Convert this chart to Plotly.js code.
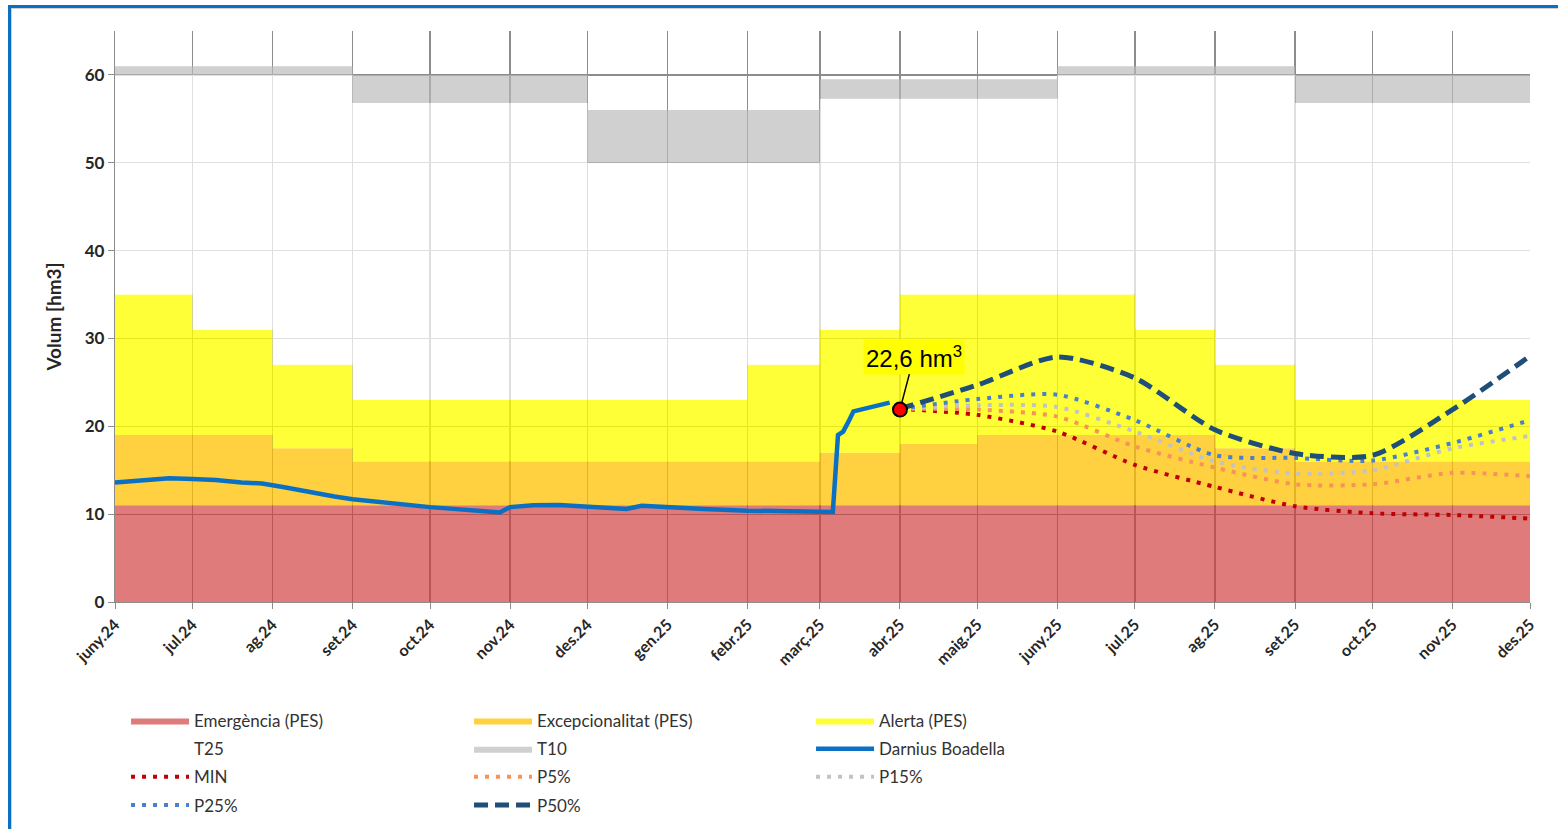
<!DOCTYPE html>
<html><head><meta charset="utf-8">
<script src="https://cdn.plot.ly/plotly-3.0.1.min.js"></script>
<style>
html,body{margin:0;padding:0;background:#fff;overflow:hidden;}
#chart{width:1558px;height:829px;}
#frame{position:absolute;left:8px;top:5px;width:1560px;height:830px;border-left:3px solid #0b6fc2;border-top:3px solid #0b6fc2;pointer-events:none;}
#frame2{position:absolute;left:11px;top:8px;width:1560px;height:830px;border-left:1px solid #d0d0d0;border-top:1px solid #d0d0d0;pointer-events:none;}
</style></head><body>
<div id="chart"></div><div id="frame"></div><div id="frame2"></div>
<script>
// Month starts (axis ticks) and their labels
const months = ['2024-06-01','2024-07-01','2024-08-01','2024-09-01','2024-10-01','2024-11-01','2024-12-01',
  '2025-01-01','2025-02-01','2025-03-01','2025-04-01','2025-05-01','2025-06-01','2025-07-01','2025-08-01',
  '2025-09-01','2025-10-01','2025-11-01','2025-12-01'];
const monthLabels = ['juny.24','jul.24','ag.24','set.24','oct.24','nov.24','des.24','gen.25','febr.25','març.25',
  'abr.25','maig.25','juny.25','jul.25','ag.25','set.25','oct.25','nov.25','des.25'];

// Monthly threshold levels (hm3), one per month juny.24 .. nov.25
const emergencia      = [11,11,11,11,11,11,11,11,11,11,11,11,11,11,11,11,11,11];
const excepcionalitat = [19,19,17.5,16,16,16,16,16,16,17,18,19,19,19,17.5,16,16,16];
const alerta          = [35,31,27,23,23,23,23,23,27,31,35,35,35,31,27,23,23,23];
const t25             = [60,60,60,56.8,56.8,56.8,50,50,50,57.3,57.3,57.3,60,60,60,56.8,56.8,56.8];
const t10             = [61,61,61,60,60,60,56,56,56,59.5,59.5,59.5,61,61,61,60,60,60];

// Observed volume Darnius Boadella
const obsDates = ['2024-06-01','2024-06-10','2024-06-22','2024-07-01','2024-07-10','2024-07-20','2024-07-28',
  '2024-08-05','2024-08-15','2024-08-25','2024-09-01','2024-09-10','2024-09-20','2024-10-01','2024-10-10',
  '2024-10-20','2024-10-28','2024-11-01','2024-11-10','2024-11-20','2024-12-01','2024-12-10','2024-12-16',
  '2024-12-22','2025-01-01','2025-01-15','2025-02-01','2025-02-15','2025-03-01','2025-03-06','2025-03-08',
  '2025-03-10','2025-03-12','2025-03-14','2025-03-28'];
const obsValues = [13.6,13.8,14.1,14.0,13.9,13.6,13.5,13.1,12.5,12.0,11.7,11.4,11.1,10.8,10.6,10.4,10.2,10.8,
  11.0,11.05,10.9,10.8,10.6,10.95,10.85,10.6,10.4,10.3,10.25,10.25,19.0,19.4,20.5,21.7,22.7];

// Current point
const nowDate = ['2025-04-01'];
const nowValue = [21.9];

// Projections abr.25 .. des.25
const projDates = months.slice(10);
const pMin = [22.0,21.3,19.4,15.6,13.1,10.9,10.1,9.9,9.5];
const p5   = [22.0,21.9,21.1,17.7,15.3,13.4,13.4,14.7,14.3];
const p15  = [22.0,22.4,22.2,19.4,16.0,14.6,15.0,17.5,18.9];
const p25  = [22.0,23.1,23.6,20.7,16.7,16.4,16.1,18.1,20.7];
const p50  = [22.0,24.7,27.9,25.5,19.6,16.9,16.7,21.9,28.0];

const ext = a => a.concat([a[a.length-1]]);

function area(name, vals, color, legend, first){
  return {x: months, y: ext(vals), name: name, type:'scatter', mode:'lines',
    line:{shape:'hv', width:0, color:color}, fill: first?'tozeroy':'tonexty', fillcolor: color,
    legend: legend, legendgroup: name, hoverinfo:'skip'};
}
function proj(name, vals, color, dash, width, legend){
  return {x: projDates, y: vals, name: name, type:'scatter', mode:'lines',
    line:{shape:'spline', smoothing:0.7, color:color, dash:dash, width:width},
    legend: legend, legendgroup: name};
}

const traces = [
  area('Emergència (PES)', emergencia, 'rgba(210,60,60,0.68)', 'legend', true),
  area('Excepcionalitat (PES)', excepcionalitat, 'rgba(255,192,0,0.75)', 'legend2', false),
  area('Alerta (PES)', alerta, 'rgba(255,255,0,0.78)', 'legend3', false),
  area('T25', t25, 'rgba(255,255,255,0.72)', 'legend', false),
  area('T10', t10, 'rgba(185,185,185,0.68)', 'legend2', false),
  {x: obsDates, y: obsValues, name:'Darnius Boadella', type:'scatter', mode:'lines',
    line:{color:'#0a70c4', width:4.5}, legend:'legend3', legendgroup:'Darnius Boadella'},
  proj('MIN', pMin, '#c00000', '4px,7px', 4, 'legend'),
  proj('P5%', p5, '#f7925a', '4px,7px', 4, 'legend2'),
  proj('P15%', p15, '#c3c3c3', '4px,7px', 4, 'legend3'),
  proj('P25%', p25, '#4a7fd0', '4px,7px', 4, 'legend'),
  proj('P50%', p50, '#1f4e79', '14px,7px', 5, 'legend2'),
  {x: nowDate, y: nowValue, type:'scatter', mode:'markers', showlegend:false,
    marker:{size:14, color:'#ff0000', line:{color:'#000', width:2}}}
];

const legFont = {family:'Lato, sans-serif', size:17, color:'#333'};
function leg(x){
  return {xref:'paper', yref:'paper', x:x, y:-0.177, xanchor:'left', yanchor:'top',
    orientation:'v', font:legFont, itemwidth:58, bgcolor:'rgba(0,0,0,0)',
    traceorder:'grouped', tracegroupgap:3, itemclick:false, itemdoubleclick:false};
}

const gridC = '#8c8c8c';
const layout = {
  width:1558, height:829,
  margin:{l:115, r:28, t:31, b:227, autoexpand:false},
  paper_bgcolor:'#fff', plot_bgcolor:'#fff',
  showlegend:true,
  xaxis:{type:'date', range:[months[0], months[months.length-1]], tickmode:'array',
    tickvals: months, ticktext: monthLabels, tickangle:-45, automargin:false,
    tickfont:{family:'Lato, sans-serif', size:16, color:'#262626', weight:700},
    showgrid:true, gridcolor:gridC, gridwidth:1.2, showline:true, linecolor:gridC, linewidth:1.2,
    ticks:'outside', ticklen:6, tickcolor:gridC, zeroline:false},
  yaxis:{range:[0,65], tickmode:'array', tickvals:[0,10,20,30,40,50,60], automargin:false,
    tickfont:{family:'Lato, sans-serif', size:17, color:'#262626', weight:700},
    showgrid:true, gridcolor:gridC, gridwidth:1.2, showline:true, linecolor:gridC, linewidth:1.2,
    ticks:'outside', ticklen:6, tickcolor:gridC, zeroline:false,
    title:{text:'Volum [hm3]', font:{family:'Lato, sans-serif', size:19, color:'#262626', weight:700}, standoff:18}},
  legend: leg(0.0078), legend2: leg(0.2502), legend3: leg(0.4919),
  annotations:[{x:nowDate[0], y:nowValue[0], xref:'x', yref:'y', text:'22,6 hm<sup>3</sup>',
    showarrow:true, arrowhead:0, arrowwidth:1.5, arrowcolor:'#000', ax:14, ay:-53, standoff:7,
    bgcolor:'#ffff00', borderpad:2,
    font:{family:'Liberation Sans, Arial, sans-serif', size:24, color:'#000'}}]
};

Plotly.newPlot('chart', traces, layout, {displayModeBar:false, staticPlot:true});
</script>
</body></html>
